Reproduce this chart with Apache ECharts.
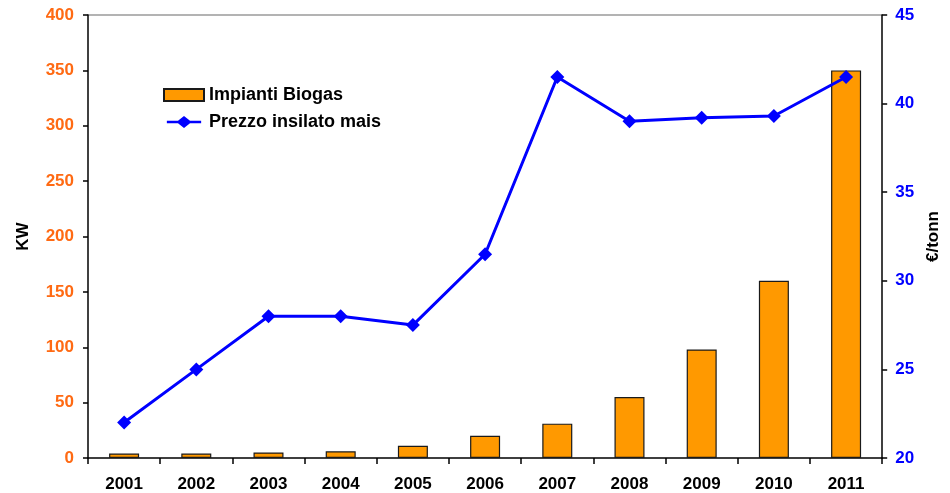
<!DOCTYPE html>
<html>
<head>
<meta charset="utf-8">
<script src="https://cdn.jsdelivr.net/npm/echarts@6/dist/echarts.min.js"></script>
<style>
  html, body { margin: 0; padding: 0; background: #fff; }
  #chart { width: 950px; height: 493px; }
</style>
</head>
<body>
<div id="chart"></div>
<script>
// Years on the category axis
const years = ['2001', '2002', '2003', '2004', '2005', '2006', '2007', '2008', '2009', '2010', '2011'];
// Installed biogas power (KW) – left axis
const biogasKW = [4, 4, 5, 6, 11, 20, 31, 55, 98, 160, 350];
// Maize silage price (€/tonn) – right axis
const silagePrice = [22, 25, 28, 28, 27.5, 31.5, 41.5, 39, 39.2, 39.3, 41.5];

const FONT = '"Liberation Sans", Arial, sans-serif';

// legend glyph: horizontal stroke with a diamond in the middle
const LINE_DIAMOND_ICON = 'path://M0,5.5 H13 L20,0 L27,5.5 H40 V8.5 H27 L20,14 L13,8.5 H0 Z';

const chart = echarts.init(document.getElementById('chart'), null, { renderer: 'canvas' });

chart.setOption({
  animation: false,
  backgroundColor: '#ffffff',
  grid: { left: 88, right: 67, top: 15, bottom: 35, containLabel: false },
  legend: {
    orient: 'vertical',
    left: 158,
    top: 81,
    itemWidth: 40,
    itemHeight: 12,
    itemGap: 9,
    textStyle: { fontFamily: FONT, fontWeight: 'bold', fontSize: 18, color: '#000' },
    data: [
      { name: 'Impianti Biogas', icon: 'rect' },
      { name: 'Prezzo insilato mais', icon: LINE_DIAMOND_ICON, itemStyle: { color: '#0000FF', borderWidth: 0 } }
    ]
  },
  xAxis: {
    type: 'category',
    data: years,
    boundaryGap: true,
    axisLine: { lineStyle: { color: '#000', width: 1.5 } },
    axisTick: { show: true, length: 6, lineStyle: { color: '#000', width: 1.5 } },
    axisLabel: { fontFamily: FONT, fontWeight: 'bold', fontSize: 17, color: '#000', margin: 18 }
  },
  yAxis: [
    {
      type: 'value',
      min: 0, max: 400, interval: 50,
      name: 'KW',
      nameLocation: 'middle',
      nameRotate: 90,
      nameGap: 56,
      nameTextStyle: { fontFamily: FONT, fontWeight: 'bold', fontSize: 17, color: '#000' },
      axisLine: { show: true, lineStyle: { color: '#000', width: 1.5 } },
      axisTick: { show: true, length: 5, inside: false, lineStyle: { color: '#000', width: 1.5 } },
      axisLabel: { fontFamily: FONT, fontWeight: 'bold', fontSize: 17, color: '#FF6A13', margin: 14 },
      splitLine: { show: false }
    },
    {
      type: 'value',
      min: 20, max: 45, interval: 5,
      position: 'right',
      name: '€/tonn',
      nameLocation: 'middle',
      nameRotate: 90,
      nameGap: 42,
      nameTextStyle: { fontFamily: FONT, fontWeight: 'bold', fontSize: 17, color: '#000' },
      axisLine: { show: true, lineStyle: { color: '#000', width: 1.5 } },
      axisTick: { show: true, length: 5, inside: false, lineStyle: { color: '#000', width: 1.5 } },
      axisLabel: { fontFamily: FONT, fontWeight: 'bold', fontSize: 17, color: '#0000FF', margin: 13 },
      splitLine: { show: false }
    }
  ],
  graphic: [
    {
      // thin frame line across the top of the plot area
      type: 'line',
      shape: { x1: 88, y1: 15, x2: 883, y2: 15 },
      style: { stroke: '#9a9a9a', lineWidth: 1.5 },
      z: 0
    }
  ],
  series: [
    {
      name: 'Impianti Biogas',
      type: 'bar',
      yAxisIndex: 0,
      data: biogasKW,
      barWidth: 30,
      itemStyle: { color: '#FF9900', borderColor: '#1a1a1a', borderWidth: 1.2 }
    },
    {
      name: 'Prezzo insilato mais',
      type: 'line',
      yAxisIndex: 1,
      data: silagePrice,
      symbol: 'diamond',
      symbolSize: 14,
      lineStyle: { color: '#0000FF', width: 3 },
      itemStyle: { color: '#0000FF' },
      z: 5
    }
  ]
});
</script>
</body>
</html>
